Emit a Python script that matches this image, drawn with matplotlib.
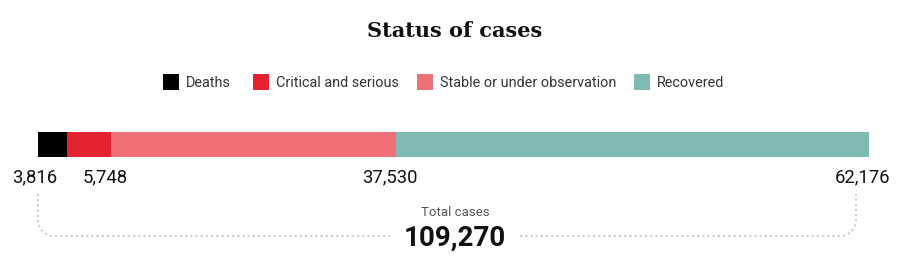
import numpy as np
import matplotlib.pyplot as plt

categories = ['Deaths', 'Critical and serious', 'Stable or under observation', 'Recovered']
values = [3816, 5748, 37530, 62176]
colors = ['#000000', '#e52330', '#f07078', '#7fbab5']
total = sum(values)

W, H = 909, 265
fig = plt.figure(figsize=(W / 100, H / 100), dpi=100)
ax = fig.add_axes([0, 0, 1, 1])
# bar runs from pixel 38 to 869
x0, x1 = 38, 869
k = total / (x1 - x0)
ax.set_xlim(-x0 * k, (W - x0) * k)
ax.set_ylim(H, 0)
ax.axis('off')

left = 0
for v, c in zip(values, colors):
    ax.barh(144.5, v, left=left, height=25, color=c, linewidth=0)
    left += v

# value labels
cum = np.cumsum(values)
lab_x = [-3 * k] + list(cum[1:] - 6 * k)
for x, v in zip(lab_x, values):
    ax.text(x, 177, f'{v:,}', ha='center', va='center', fontsize=13.3,
            family='Roboto', color='#111111')

fig.text(0.5, 1 - 31 / H, 'Status of cases', ha='center', va='center',
         fontsize=15, fontweight='bold', family='DejaVu Serif', color='#111111')

# legend
leg_x = [163, 253, 417, 634]
for lx, name, c in zip(leg_x, categories, colors):
    ax.add_patch(plt.Rectangle(((lx - x0) * k, 74), 16 * k, 16, color=c, lw=0))
    ax.text((lx + 23 - x0) * k, 83, name, ha='left', va='center', fontsize=10.4,
            family='Roboto', color='#333333')

# bracket
r = 16
top, bot = 194, 236
t = np.linspace(np.pi, np.pi / 2, 20)
lx_ = np.concatenate([[38, 38], 38 + r + r * np.cos(t), [390]])
ly_ = np.concatenate([[top, bot - r], bot - r + r * np.sin(t), [bot]])
ax.plot((lx_ - x0) * k, ly_, color='#cccccc', lw=1.5, ls=(0, (1, 1.5)))
t2 = np.linspace(np.pi / 2, 0, 20)
rx_ = np.concatenate([[520], 856 - r + r * np.cos(t2), [856, 856]])
ry_ = np.concatenate([[bot], bot - r + r * np.sin(t2), [bot - r, top]])
ax.plot((rx_ - x0) * k, ry_, color='#cccccc', lw=1.5, ls=(0, (1, 1.5)))

ax.text((455 - x0) * k, 213, 'Total cases', ha='center', va='center', fontsize=9.5,
        family='Roboto', color='#555555')
ax.text((455 - x0) * k, 238, f'{total:,}', ha='center', va='center', fontsize=20,
        family='Roboto', fontweight='bold', color='#111111')

fig.savefig('out.png', dpi=100)
